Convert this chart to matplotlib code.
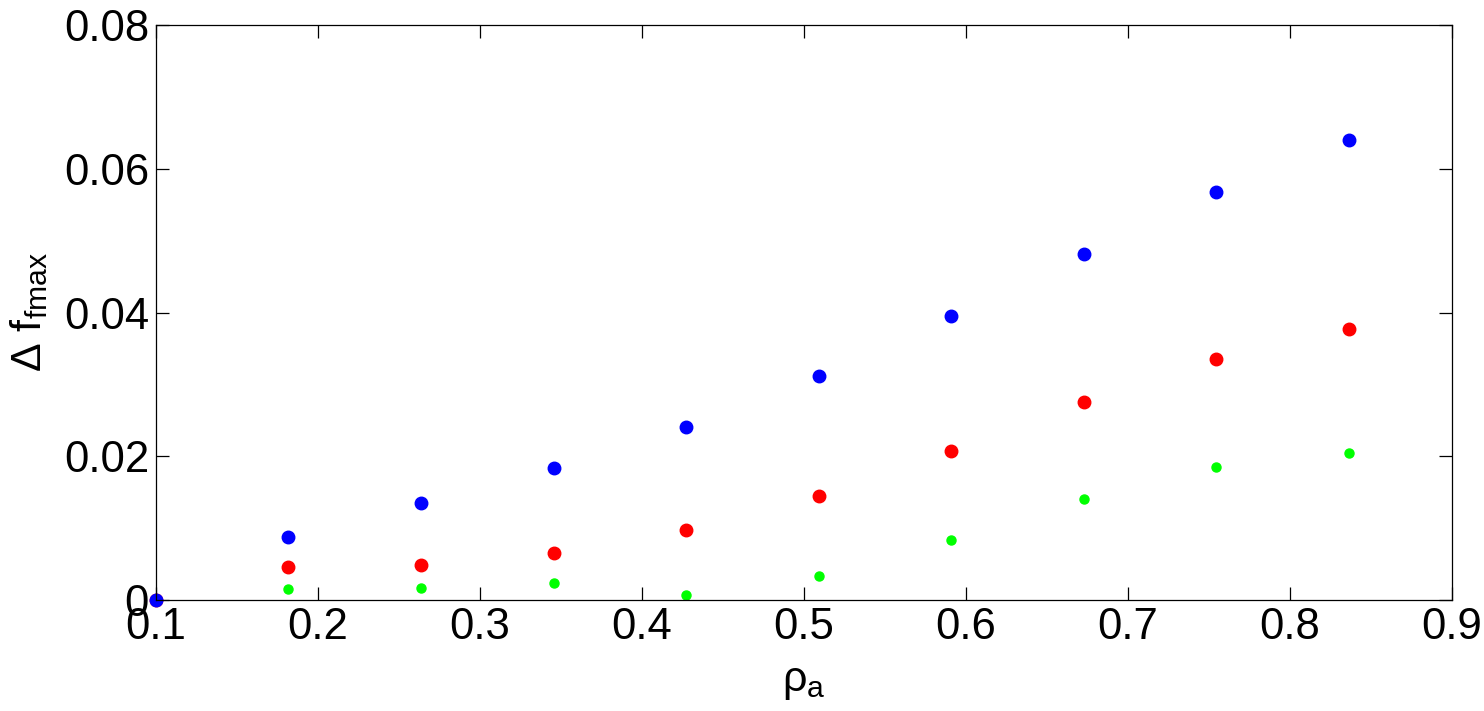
import numpy as np
import matplotlib
matplotlib.use('Agg')
import matplotlib.pyplot as plt

plt.rcParams['font.family'] = ['Liberation Sans', 'DejaVu Sans']
plt.rcParams['mathtext.default'] = 'regular'

# rho_a values
rho_a = [0.1, 0.1818, 0.2636, 0.3455, 0.4273, 0.5091, 0.5909, 0.6727, 0.7545, 0.8364]

# delta f_fmax for the three series
df_blue = [0.0, 0.0087, 0.0135, 0.0183, 0.0241, 0.0312, 0.0395, 0.0481, 0.0568, 0.0640]
df_red = [0.0, 0.0046, 0.0049, 0.0066, 0.0097, 0.0145, 0.0207, 0.0275, 0.0335, 0.0377]
df_green = [0.0, 0.0015, 0.0017, 0.0024, 0.0007, 0.0033, 0.0084, 0.0140, 0.0185, 0.0204]

xticks = [0.1, 0.2, 0.3, 0.4, 0.5, 0.6, 0.7, 0.8, 0.9]
yticks = [0, 0.02, 0.04, 0.06, 0.08]
yticklabels = ['0', '0.02', '0.04', '0.06', '0.08']

fig = plt.figure(figsize=(14.84, 7.11), dpi=100)
ax = fig.add_axes([0.1051, 0.1561, 0.8733, 0.8087])

ax.plot(rho_a, df_green, 'o', color=(0, 1, 0), markersize=6.5, clip_on=False)
ax.plot(rho_a, df_red, 'o', color=(1, 0, 0), markersize=9, clip_on=False)
ax.plot(rho_a, df_blue, 'o', color=(0, 0, 1), markersize=9, clip_on=False)

ax.set_xlim(0.1, 0.9)
ax.set_ylim(0, 0.08)
ax.set_xticks(xticks)
ax.set_xticklabels([f'{t:g}' for t in xticks])
ax.set_yticks(yticks)
ax.set_yticklabels(yticklabels)

ax.tick_params(direction='in', length=9.5, width=0.9, labelsize=31.5,
               top=True, right=True, pad=5)
for s in ax.spines.values():
    s.set_linewidth(0.9)

ax.set_xlabel('\u03c1$_a$', fontsize=31, labelpad=10)
ax.set_ylabel('\u0394 f$_{fmax}$', fontsize=31, labelpad=10)

fig.savefig('out.png', dpi=100)
